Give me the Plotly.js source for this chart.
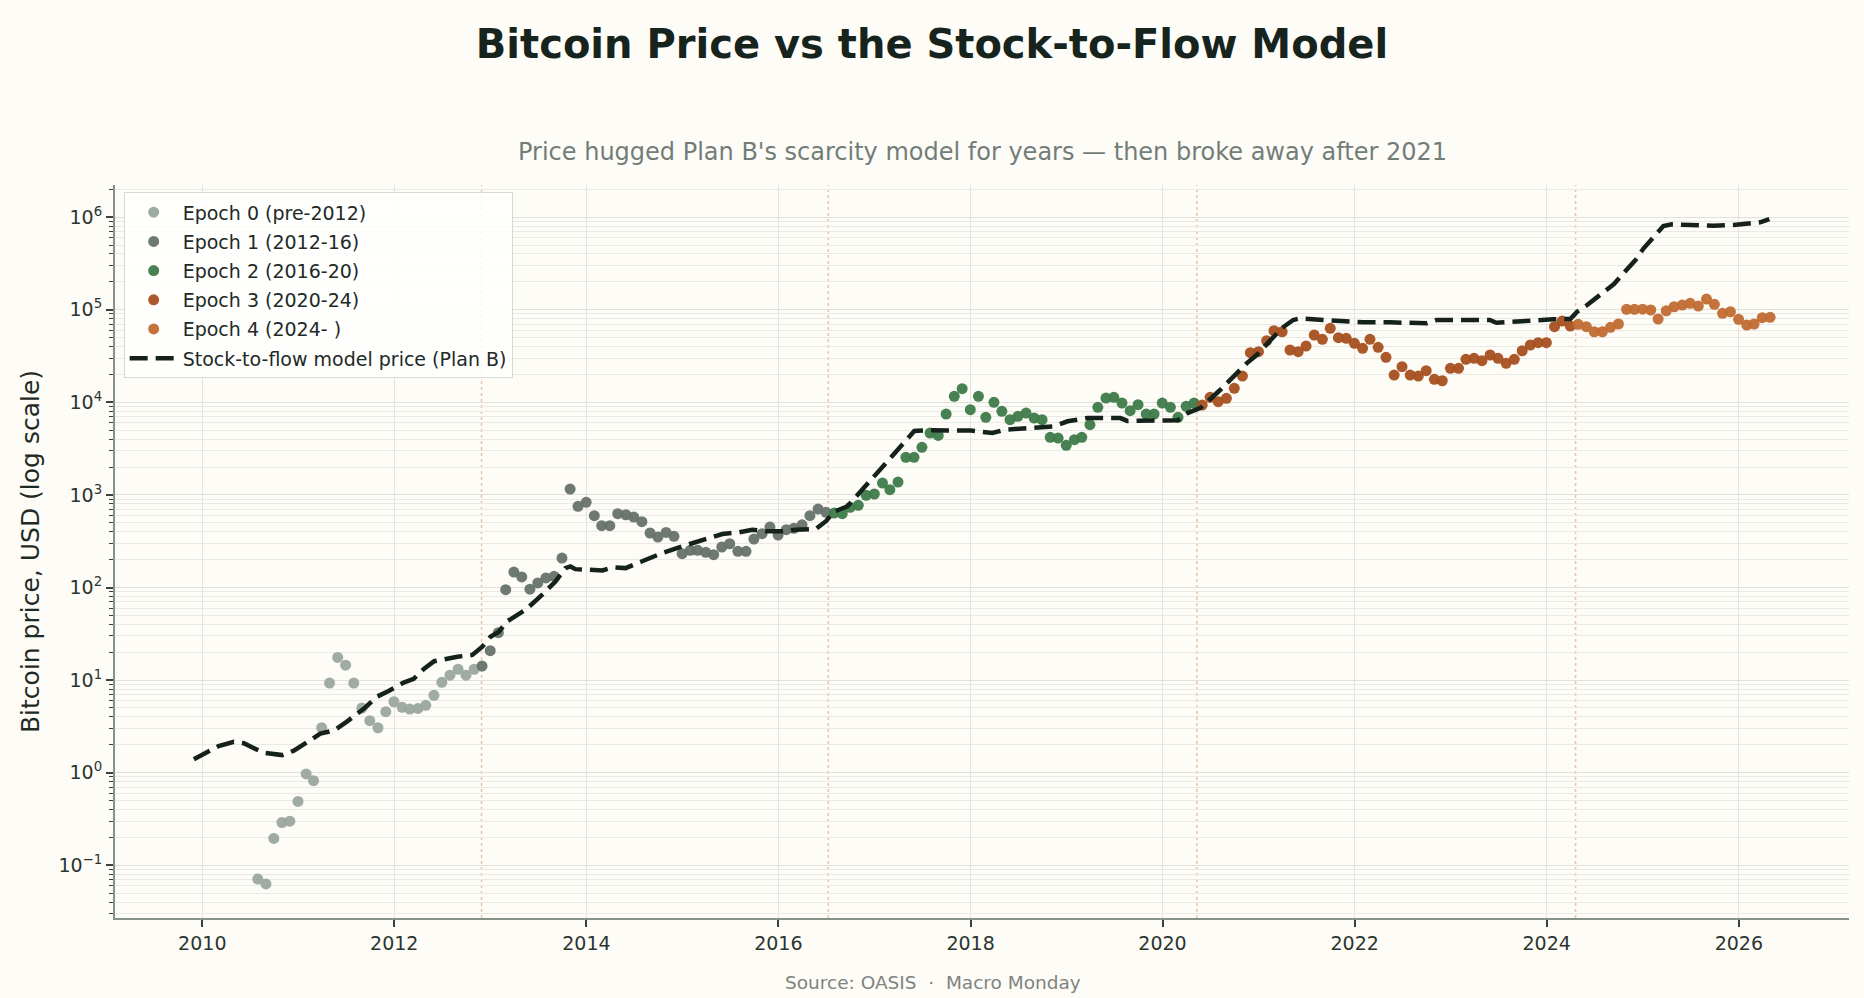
<!DOCTYPE html>
<html>
<head>
<meta charset="utf-8">
<script src="https://cdn.plot.ly/plotly-3.0.1.min.js"></script>
<style>
  html, body { margin: 0; padding: 0; background: #fdfcf7; }
  #chart { width: 1864px; height: 998px; }
</style>
</head>
<body>
<div id="chart"></div>
<script>
// ---------------- DATA ----------------
const epoch0Dates = ["2010-07-31","2010-08-31","2010-09-30","2010-10-31","2010-11-30","2010-12-31",
  "2011-01-31","2011-02-28","2011-03-31","2011-04-30","2011-05-31","2011-06-30","2011-07-31","2011-08-31","2011-09-30","2011-10-31","2011-11-30","2011-12-31",
  "2012-01-31","2012-02-29","2012-03-31","2012-04-30","2012-05-31","2012-06-30","2012-07-31","2012-08-31","2012-09-30","2012-10-31"];
const epoch0Prices = [0.071,0.063,0.195,0.29,0.30,0.49,
  0.97,0.82,3.06,9.3,17.6,14.5,9.3,5.0,3.65,3.06,4.56,5.84,
  5.08,4.87,4.95,5.35,6.85,9.46,11.3,13.1,11.3,13.1];

const epoch1Dates = ["2012-11-30","2012-12-31",
  "2013-01-31","2013-02-28","2013-03-31","2013-04-30","2013-05-31","2013-06-30","2013-07-31","2013-08-31","2013-09-30","2013-10-31","2013-11-30","2013-12-31",
  "2014-01-31","2014-02-28","2014-03-31","2014-04-30","2014-05-31","2014-06-30","2014-07-31","2014-08-31","2014-09-30","2014-10-31","2014-11-30","2014-12-31",
  "2015-01-31","2015-02-28","2015-03-31","2015-04-30","2015-05-31","2015-06-30","2015-07-31","2015-08-31","2015-09-30","2015-10-31","2015-11-30","2015-12-31",
  "2016-01-31","2016-02-29","2016-03-31","2016-04-30","2016-05-31","2016-06-30"];
const epoch1Prices = [14.2,20.8,
  32.5,94.7,147,130,96,112,127,132,208,1158,753,832,
  596,465,465,627,611,577,514,388,351,394,357,232,
  252,252,240,226,274,297,246,246,334,381,450,369,
  421,436,476,596,704,649];

const epoch2Dates = ["2016-07-31","2016-08-31","2016-09-30","2016-10-31","2016-11-30","2016-12-31",
  "2017-01-31","2017-02-28","2017-03-31","2017-04-30","2017-05-31","2017-06-30","2017-07-31","2017-08-31","2017-09-30","2017-10-31","2017-11-30","2017-12-31",
  "2018-01-31","2018-02-28","2018-03-31","2018-04-30","2018-05-31","2018-06-30","2018-07-31","2018-08-31","2018-09-30","2018-10-31","2018-11-30","2018-12-31",
  "2019-01-31","2019-02-28","2019-03-31","2019-04-30","2019-05-31","2019-06-30","2019-07-31","2019-08-31","2019-09-30","2019-10-31","2019-11-30","2019-12-31",
  "2020-01-31","2020-02-29","2020-03-31","2020-04-30"];
const epoch2Prices = [637,627,735,772,990,1023,
  1344,1138,1377,2545,2545,3266,4660,4396,7470,11600,14030,8320,
  11600,6890,10000,8000,6490,7060,7660,6760,6490,4190,4110,3430,
  3945,4190,5730,8830,11120,11320,9820,8120,9420,7470,7470,9820,
  8830,6890,9060,9820];

const epoch3Dates = ["2020-05-31","2020-06-30","2020-07-31","2020-08-31","2020-09-30","2020-10-31","2020-11-30","2020-12-31",
  "2021-01-31","2021-02-28","2021-03-31","2021-04-30","2021-05-31","2021-06-30","2021-07-31","2021-08-31","2021-09-30","2021-10-31","2021-11-30","2021-12-31",
  "2022-01-31","2022-02-28","2022-03-31","2022-04-30","2022-05-31","2022-06-30","2022-07-31","2022-08-31","2022-09-30","2022-10-31","2022-11-30","2022-12-31",
  "2023-01-31","2023-02-28","2023-03-31","2023-04-30","2023-05-31","2023-06-30","2023-07-31","2023-08-31","2023-09-30","2023-10-31","2023-11-30","2023-12-31",
  "2024-01-31","2024-02-29","2024-03-31"];
const epoch3Prices = [9350,11320,10150,11040,14170,19230,34350,35190,
  46240,59300,57830,36730,35190,40520,53320,47900,62950,49860,49100,43350,
  38280,47900,39260,30620,19720,24240,19720,19230,21940,17700,17100,23280,
  23280,29120,29850,28130,32430,29850,26370,29120,36060,41590,44040,44040,
  65600,75500,66680];

const epoch4Dates = ["2024-04-30","2024-05-31","2024-06-30","2024-07-31","2024-08-31","2024-09-30","2024-10-31","2024-11-30","2024-12-31",
  "2025-01-31","2025-02-28","2025-03-31","2025-04-30","2025-05-31","2025-06-30","2025-07-31","2025-08-31","2025-09-30","2025-10-31","2025-11-30","2025-12-31",
  "2026-01-31","2026-02-28","2026-03-31","2026-04-30"];
const epoch4Prices = [69500,65600,57830,57830,64560,70100,100900,100900,101500,
  99300,79400,97500,107700,112400,117300,109600,130500,114300,91400,95100,78700,
  68400,70100,82000,82800];

const modelDates = ["2009-11-30","2010-03-04","2010-05-01","2010-06-08","2010-08-22","2010-11-01","2010-12-15",
  "2011-02-17","2011-03-26","2011-05-18","2011-07-05","2011-09-13","2011-10-27","2011-12-09",
  "2012-02-06","2012-03-15","2012-04-25","2012-06-01","2012-07-08","2012-08-28","2012-10-24","2012-12-01",
  "2013-01-01","2013-02-02","2013-03-06","2013-05-15","2013-07-17","2013-09-06","2013-10-13","2013-11-01","2013-11-20",
  "2014-01-10","2014-03-03","2014-04-10","2014-05-30","2014-08-01","2014-10-17",
  "2015-01-01","2015-03-18","2015-06-02","2015-08-04","2015-09-24","2015-11-13",
  "2016-01-16","2016-03-07","2016-04-27","2016-05-23","2016-06-30","2016-07-31","2016-09-20","2016-11-22",
  "2017-01-06","2017-03-04","2017-04-17","2017-06-01","2017-08-01",
  "2018-01-01","2018-03-25","2018-05-10","2018-11-15",
  "2019-01-05","2019-03-20","2019-07-25","2019-08-20",
  "2020-02-28","2020-04-05","2020-05-25","2020-08-07","2020-10-09","2020-11-16","2020-12-24",
  "2021-02-13","2021-03-29","2021-05-12","2021-06-07","2021-09-03","2021-12-26",
  "2022-02-03","2022-05-15","2022-10-01","2022-11-08",
  "2023-05-30","2023-06-24","2023-10-03",
  "2024-01-26","2024-03-31","2024-04-26","2024-06-03","2024-07-24","2024-09-13","2024-11-02","2024-12-04",
  "2025-01-04","2025-02-17","2025-03-20","2025-04-21","2025-06-18","2025-09-27","2025-12-12",
  "2026-02-01","2026-03-23","2026-04-27"];
const modelPrices = [1.40,1.94,2.16,2.08,1.64,1.55,1.73,
  2.25,2.64,2.87,3.56,5.06,6.62,7.6,
  9.4,10.3,13.4,16.0,16.8,17.9,18.7,23.0,
  29.4,33.3,43.2,57.6,83.6,117,162,169,158,
  156,153,165,162,192,236,
  279,324,378,395,421,404,
  404,421,421,429,520,660,753,1188,
  1653,2500,3480,4900,5000,
  4950,4660,5060,5510,
  6240,6760,6760,6300,
  6400,7660,8700,13580,20560,26370,32430,
  47100,62950,77400,80700,77400,74300,
  73100,73100,71300,77400,
  77400,72400,76000,
  78700,79500,95100,112400,144200,189400,272900,344000,
  460600,641000,801700,835000,822000,807000,822000,
  857000,879000,953000];

const halvingDates = ["2012-11-28","2016-07-09","2020-05-11","2024-04-20"];

const epochNames = ["Epoch 0 (pre-2012)","Epoch 1 (2012-16)","Epoch 2 (2016-20)","Epoch 3 (2020-24)","Epoch 4 (2024- )"];
const epochColors = ["#9aa69f","#67726c","#3f7b49","#a6501f","#c26b31"];
const modelName = "Stock-to-flow model price (Plan B)";

const yTickVals = [0.1,1,10,100,1000,10000,100000,1000000];
const yTickText = ["10<sup>\u22121</sup>","10<sup>0</sup>","10<sup>1</sup>","10<sup>2</sup>","10<sup>3</sup>","10<sup>4</sup>","10<sup>5</sup>","10<sup>6</sup>"];

const titleText = "<b>Bitcoin Price vs the Stock-to-Flow Model</b>";
const subtitleText = "Price hugged Plan B's scarcity model for years \u2014 then broke away after 2021";
const yTitleText = "Bitcoin price, USD (log scale)";
const sourceText = "Source: OASIS  \u00b7  Macro Monday";

// ---------------- CHART ----------------
const FONT = "DejaVu Sans, sans-serif";
const epochDates = [epoch0Dates, epoch1Dates, epoch2Dates, epoch3Dates, epoch4Dates];
const epochPrices = [epoch0Prices, epoch1Prices, epoch2Prices, epoch3Prices, epoch4Prices];

const traces = epochNames.map((name, i) => ({
  type: "scatter",
  mode: "markers",
  name: name,
  legendgroup: "g" + i,
  x: epochDates[i],
  y: epochPrices[i],
  marker: { color: epochColors[i], size: 11, opacity: 0.95, line: { width: 0 } },
  hoverinfo: "x+y+name"
}));

traces.push({
  type: "scatter",
  mode: "lines",
  name: modelName,
  legendgroup: "model",
  x: modelDates,
  y: modelPrices,
  line: { color: "#15221b", width: 4.5, dash: "18px,8px" },
  hoverinfo: "x+y+name"
});

const shapes = halvingDates.map(d => ({
  type: "line",
  xref: "x", yref: "paper",
  x0: d, x1: d, y0: 0, y1: 1,
  layer: "below",
  line: { color: "rgba(214,150,110,0.55)", width: 1.5, dash: "dot" }
}));

const layout = {
  width: 1864,
  height: 998,
  paper_bgcolor: "#fdfcf7",
  plot_bgcolor: "#fdfcf7",
  font: { family: FONT, color: "#222a26", size: 19 },
  margin: { l: 115, r: 15, t: 185, b: 80 },
  title: {
    text: titleText,
    font: { family: FONT, size: 40, color: "#17241e" },
    x: 0.5, xref: "container", xanchor: "center",
    y: 1 - 44 / 998, yref: "container", yanchor: "middle"
  },
  showlegend: true,
  legend: {
    x: 0.005, y: 0.99, xanchor: "left", yanchor: "top",
    bgcolor: "rgba(255,255,255,0.85)",
    bordercolor: "#d8d9d4",
    borderwidth: 1,
    itemwidth: 48,
    tracegroupgap: 1.5,
    font: { family: FONT, size: 19, color: "#222a26" }
  },
  xaxis: {
    type: "date",
    range: ["2009-02-03", "2027-02-24"],
    tickmode: "linear",
    tick0: "2010-01-01",
    dtick: "M24",
    tickformat: "%Y",
    ticks: "outside",
    ticklen: 7,
    tickwidth: 1.5,
    tickcolor: "#3a423e",
    tickfont: { family: FONT, size: 19, color: "#2c3430" },
    showgrid: true,
    gridcolor: "#e3e3df",
    gridwidth: 1,
    showline: true,
    linecolor: "#86918b",
    linewidth: 2,
    zeroline: false
  },
  yaxis: {
    type: "log",
    range: [-1.569, 6.347],
    tickmode: "array",
    tickvals: yTickVals,
    ticktext: yTickText,
    ticks: "outside",
    ticklen: 7,
    tickwidth: 1.5,
    tickcolor: "#3a423e",
    tickfont: { family: FONT, size: 19, color: "#2c3430" },
    showgrid: true,
    gridcolor: "#e0e0dc",
    gridwidth: 1,
    showline: true,
    linecolor: "#86918b",
    linewidth: 2,
    zeroline: false,
    minor: {
      dtick: "D1",
      ticks: "outside",
      ticklen: 4,
      tickwidth: 1.2,
      tickcolor: "#3a423e",
      showgrid: true,
      gridcolor: "#e9e9e5",
      gridwidth: 1
    },
    title: {
      text: yTitleText,
      font: { family: FONT, size: 25, color: "#1f2a25" },
      standoff: 12
    }
  },
  shapes: shapes,
  annotations: [
    {
      text: subtitleText,
      xref: "paper", yref: "paper",
      x: 0.5, y: 1 + 33 / 732.5,
      xanchor: "center", yanchor: "middle",
      showarrow: false,
      font: { family: FONT, size: 24, color: "#737d78" }
    },
    {
      text: sourceText,
      xref: "paper", yref: "paper",
      x: (933 - 115) / 1734, y: (917.5 - 982) / 732.5,
      xanchor: "center", yanchor: "middle",
      showarrow: false,
      font: { family: FONT, size: 18.5, color: "#7d8480" }
    }
  ]
};

Plotly.newPlot("chart", traces, layout, { displayModeBar: false, responsive: false });
</script>
</body>
</html>
